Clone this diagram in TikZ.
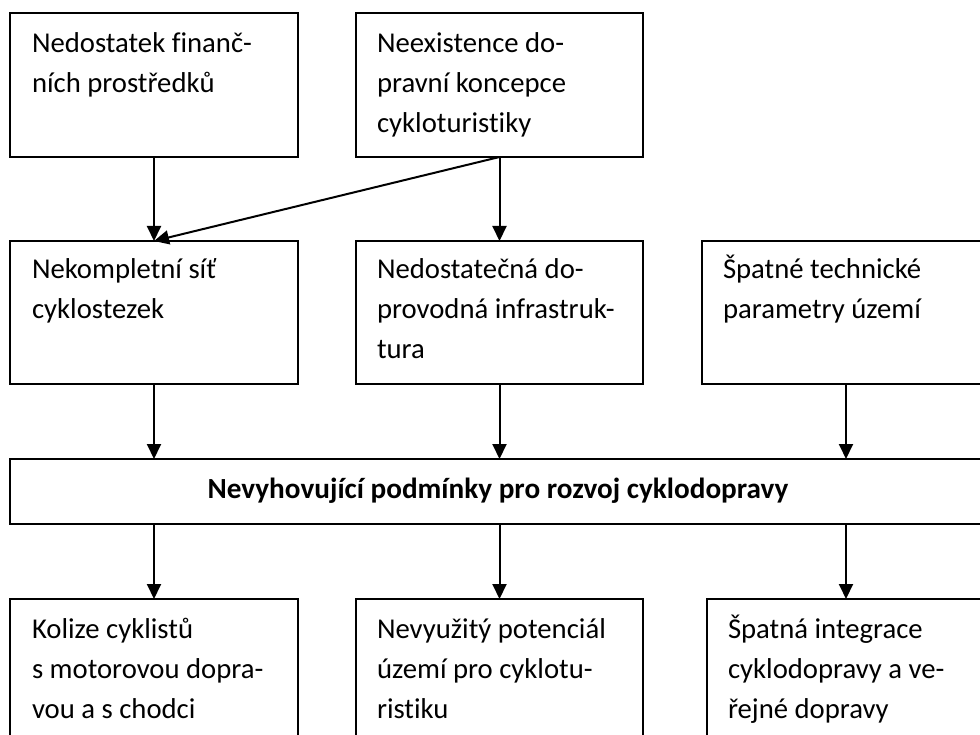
\documentclass[tikz,border=0pt]{standalone}
\usepackage{fontspec}
\setmainfont{Carlito}[Ligatures={NoCommon}]
\usetikzlibrary{arrows.meta}
\newcommand{\firststrut}{\rule{0pt}{30pt}}
\tikzset{
  box/.style={draw=black, line width=1.4pt, rectangle, anchor=north west, inner sep=0pt, outer sep=0pt},
  txt/.style={anchor=north west, inner sep=0pt, outer sep=0pt, align=left,
              font=\fontsize{28.7}{40}\selectfont},
  arr/.style={draw=black, line width=2pt, -{Triangle[length=15pt,width=14pt]}},
}
\begin{document}
\begin{tikzpicture}[x=1pt,y=-1pt]
\useasboundingbox (0,0) rectangle (980,735);
\clip (0,0) rectangle (980,735);
\fill[white] (0,0) rectangle (980,735);
% boxes
\node[box, minimum width=288pt, minimum height=144pt] (tl) at (10,13) {};
\node[box, minimum width=287pt, minimum height=144pt] (tm) at (356,13) {};
\node[box, minimum width=288pt, minimum height=143pt] (ml) at (10,241) {};
\node[box, minimum width=287pt, minimum height=143pt] (mm) at (356,241) {};
\node[box, minimum width=288pt, minimum height=143pt] (mr) at (702,241) {};
\node[box, minimum width=985pt, minimum height=65pt] (wide) at (10,459) {};
\node[box, minimum width=288pt, minimum height=170pt] (bl) at (10,599) {};
\node[box, minimum width=287pt, minimum height=170pt] (bm) at (356,599) {};
\node[box, minimum width=288pt, minimum height=170pt] (br) at (707,599) {};
% texts (first baseline = y + 30)
\node[txt] (tlt) at (32,23) {\firststrut Nedostatek finanč-\\ních prostředků};
\node[txt] (tmt) at (377,23) {\firststrut Neexistence do-\\pravní koncepce\\cykloturistiky};
\node[txt] (mlt) at (32,249) {\firststrut Nekompletní síť\\cyklostezek};
\node[txt] (mmt) at (377,249) {\firststrut Nedostatečná do-\\provodná infrastruk-\\tura};
\node[txt] (mrt) at (723,249) {\firststrut Špatné technické\\parametry území};
\node[anchor=base, inner sep=0pt, font=\fontsize{29.2}{40}\selectfont\bfseries] (widet) at (498,498) {Nevyhovující podmínky pro rozvoj cyklodopravy};
\node[txt] (blt) at (32,608) {\firststrut Kolize cyklistů\\s motorovou dopra-\\vou a s chodci};
\node[txt] (bmt) at (377,608) {\firststrut Nevyužitý potenciál\\území pro cyklotu-\\ristiku};
\node[txt] (brt) at (728,608) {\firststrut Špatná integrace\\cyklodopravy a ve-\\řejné dopravy};
% connectors
\draw[arr] (tl.south) -- (ml.north);
\draw[arr] (tm.south) -- (ml.north);
\draw[arr] (tm.south) -- (mm.north);
\draw[arr] (ml.south) -- (ml.south |- wide.north);
\draw[arr] (mm.south) -- (mm.south |- wide.north);
\draw[arr] (mr.south) -- (mr.south |- wide.north);
\draw[arr] (wide.south -| bl.north) -- (bl.north);
\draw[arr] (wide.south -| bm.north) -- (bm.north);
\draw[arr] (wide.south -| mr.south) -- (br.north -| mr.south);
\end{tikzpicture}
\end{document}
